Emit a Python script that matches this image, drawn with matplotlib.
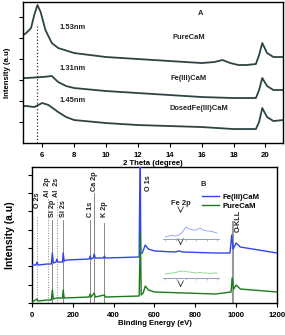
import numpy as np
import matplotlib.pyplot as plt

plt.rcParams['font.family'] = ['Liberation Sans', 'DejaVu Sans']

# --- panel A: XRD (2 theta, intensity in arbitrary units) ---
theta_pure = [4.8, 5.0, 5.3, 5.5, 5.7, 5.9, 6.2, 6.6, 7.0, 8.0, 10.0, 12.0, 14.0, 16.0, 16.8, 17.3, 17.8, 18.3, 18.8, 19.4, 19.6, 19.8, 20.1, 20.5, 21.1]
int_pure = [108, 110, 115, 128, 138, 131, 113, 100, 95, 90, 86, 84, 82, 80, 81, 83, 80, 78, 78, 79, 88, 100, 90, 86, 86]

theta_fe = [4.8, 5.0, 6.0, 6.6, 7.0, 7.5, 8.0, 10.0, 12.0, 14.0, 16.0, 18.0, 19.4, 19.6, 19.8, 20.1, 20.5, 21.1]
int_fe = [65, 65, 66, 67, 61, 57, 55, 52, 50, 48, 46, 45, 45, 53, 65, 57, 53, 53]

theta_dosed = [4.8, 5.0, 5.5, 6.0, 6.4, 7.0, 7.5, 8.0, 10.0, 12.0, 14.0, 16.0, 18.0, 19.4, 19.6, 19.8, 20.1, 20.5, 21.1]
int_dosed = [37, 37, 36, 40, 38, 31, 26, 23, 20, 18, 17, 16, 14, 14, 21, 35, 26, 22, 23]

# --- panel B: XPS survey ---
be_fe = [0, 20, 25, 30, 75, 95, 100, 105, 118, 122, 126, 150, 153, 158, 170, 280, 285, 290, 300, 305, 310, 350, 355, 360,
         525, 530, 533, 540, 555, 570, 600, 700, 720, 740, 900, 970, 978, 985, 1000, 1020, 1200]
int_fe_xps = [38, 38, 41, 38, 39, 39, 50, 40, 41, 44, 41, 41, 50, 42, 43, 44, 47, 44, 45, 49, 45, 45, 47, 45,
              46, 160, 50, 50, 58, 54, 52, 51, 52, 51, 50, 50, 68, 54, 60, 56, 50]

be_pure = [0, 10, 25, 30, 75, 95, 100, 105, 120, 150, 153, 158, 280, 285, 290, 305, 310, 355, 360,
           525, 531, 535, 545, 555, 570, 600, 900, 975, 980, 988, 1000, 1020, 1200]
int_pure_xps = [1, 2, 4, 2, 3, 3, 13, 4, 5, 5, 13, 5, 6, 9, 6, 10, 6, 8, 6,
                7, 70, 8, 10, 17, 13, 11, 9, 11, 25, 14, 18, 14, 11]

# Fe 2p insets
inset_x = [0, 1, 2, 3, 4, 5, 6, 7, 8, 9, 10, 11, 12, 13, 14, 15]
inset_fe = [2, 3, 3.5, 3, 4, 7, 12, 10, 9, 9, 11, 9, 8, 8, 7, 6]
inset_pure = [4, 4.5, 5, 5.5, 6.5, 7, 6.5, 6, 5.5, 5, 5.5, 5, 5, 4.5, 5, 5]

peaks = ['O 2s', 'Al  2p', 'Si 2p', 'Al  2s', 'Si 2s', 'C 1s', 'Ca 2p', 'K 2p']
peak_be = [25, 77, 100, 122, 153, 285, 305, 355]
peak_top = [86, 105, 83, 105, 83, 83, 110, 80]
label_y = [95, 106, 86, 106, 86, 86, 112, 86]
peak_style = [':', ':', '-', ':', '-', '-', '-', '-']

dark = '#2e4444'
blue = '#3344ee'
green = '#1b7a1b'

fig = plt.figure(figsize=(2.85, 3.35), dpi=100)
fs = 5.6

# ---------------- A ----------------
ax1 = fig.add_axes([0.081, 0.573, 0.912, 0.421])
ax1.plot(theta_pure, int_pure, color=dark, lw=1.3)
ax1.plot(theta_fe, int_fe, color=dark, lw=1.3)
ax1.plot(theta_dosed, int_dosed, color=dark, lw=1.3)
ax1.axvline(5.65, ymax=0.83, color='#333333', ls=':', lw=0.9)
ax1.set_xlim(4.8, 21.1)
ax1.set_ylim(0, 141)
ax1.set_xticks(range(6, 21, 2))
ax1.set_yticks([21, 42, 63, 84, 105, 126])
ax1.set_yticklabels([])
ax1.tick_params(labelsize=fs, length=3, width=0.8)
ax1.set_xlabel('2 Theta (degree)', fontsize=5.6, fontweight='bold', labelpad=1)
ax1.set_ylabel('Intensity (a.u)', fontsize=5.6, fontweight='bold', labelpad=2)
for lb in ax1.get_xticklabels():
    lb.set_fontweight('bold')
tk = dict(fontsize=5.4, fontweight='bold', color='#222222')
ax1.text(15.9, 130, 'A', ha='center', va='center', **tk)
ax1.text(7.1, 116, '1.53nm', ha='left', va='center', **tk)
ax1.text(15.2, 106, 'PureCaM', ha='center', va='center', **tk)
ax1.text(7.1, 75, '1.31nm', ha='left', va='center', **tk)
ax1.text(15.2, 65, 'Fe(III)CaM', ha='center', va='center', **tk)
ax1.text(7.1, 43, '1.45nm', ha='left', va='center', **tk)
ax1.text(15.8, 35, 'DosedFe(III)CaM', ha='center', va='center', **tk)
for s in ax1.spines.values():
    s.set_linewidth(1.0)

# ---------------- B ----------------
ax2 = fig.add_axes([0.112, 0.0955, 0.860, 0.406])
for name, x, top, ly, st in zip(peaks, peak_be, peak_top, label_y, peak_style):
    ax2.plot([x, x], [0, top], color='#888888', ls=st, lw=0.7, zorder=1)
    ax2.text(x, ly, name, rotation=90, ha='center', va='bottom',
             fontsize=5.2, fontweight='bold', color='#222222')
ax2.plot([983, 983], [0, 81], color='#999999', lw=1.5, zorder=1)
ax2.text(1008, 71, 'O-KLL', rotation=90, ha='center', va='bottom', fontsize=5.2, fontweight='bold', color='#222222')
ax2.text(555, 112, 'O 1s', rotation=90, ha='left', va='bottom', fontsize=5.2, fontweight='bold', color='#222222')
ax2.plot(be_fe, int_fe_xps, color=blue, lw=1.0, label='Fe(III)CaM', zorder=3)
ax2.plot(be_pure, int_pure_xps, color=green, lw=1.0, label='PureCaM', zorder=3)
ax2.set_xlim(0, 1200)
ax2.set_ylim(0, 136)
ax2.set_xticks(range(0, 1201, 200))
ax2.set_yticks([0, 18, 37, 55, 73, 92, 110, 128])
ax2.set_yticklabels([])
ax2.tick_params(labelsize=fs, length=3, width=0.8)
for lb in ax2.get_xticklabels():
    lb.set_fontweight('bold')
ax2.set_xlabel('Binding Energy (eV)', fontsize=5.6, fontweight='bold', labelpad=1)
ax2.set_ylabel('Intensity (a.u)', fontsize=7.5, fontweight='bold', labelpad=6)
ax2.text(840, 118, 'B', ha='center', va='center', fontsize=5.4, fontweight='bold', color='#222222')
ax2.legend(loc='upper left', bbox_to_anchor=(0.69, 0.81), frameon=False,
           prop={'weight': 'bold', 'size': 5.6}, handlelength=2.2, handletextpad=0.4,
           labelspacing=0.2, borderaxespad=0.0, borderpad=0.1)
ax2.text(728, 96, 'Fe 2p', ha='center', va='bottom', fontsize=5.4, fontweight='bold', color='#222222')
arrow = dict(arrowstyle='->', color='#333333', lw=0.6)
for y0, y1 in [(95, 87), (62, 55), (20, 13)]:
    ax2.annotate('', xy=(728, y1), xytext=(728, y0), arrowprops=arrow)
for s in ax2.spines.values():
    s.set_linewidth(1.0)

# insets
for ybase, vals, col in [(64, inset_fe, '#8f9cf2'), (25, inset_pure, '#86d486')]:
    ins = ax2.inset_axes([644, ybase, 271, 14], transform=ax2.transData)
    ins.plot(inset_x, vals, color=col, lw=0.6)
    ins.set_xlim(-0.5, 15.5)
    ins.set_ylim(0, 14)
    ins.patch.set_alpha(0)
    for k in ['top', 'right', 'left']:
        ins.spines[k].set_visible(False)
    ins.spines['bottom'].set_color('#8090b0')
    ins.spines['bottom'].set_linewidth(0.6)
    ins.set_yticks([])
    ins.set_xticks([0, 3, 6, 9, 12, 15])
    ins.set_xticklabels([])
    ins.tick_params(axis='x', length=1.5, width=0.4, color='#8090b0')

fig.savefig('out.png', dpi=100)
